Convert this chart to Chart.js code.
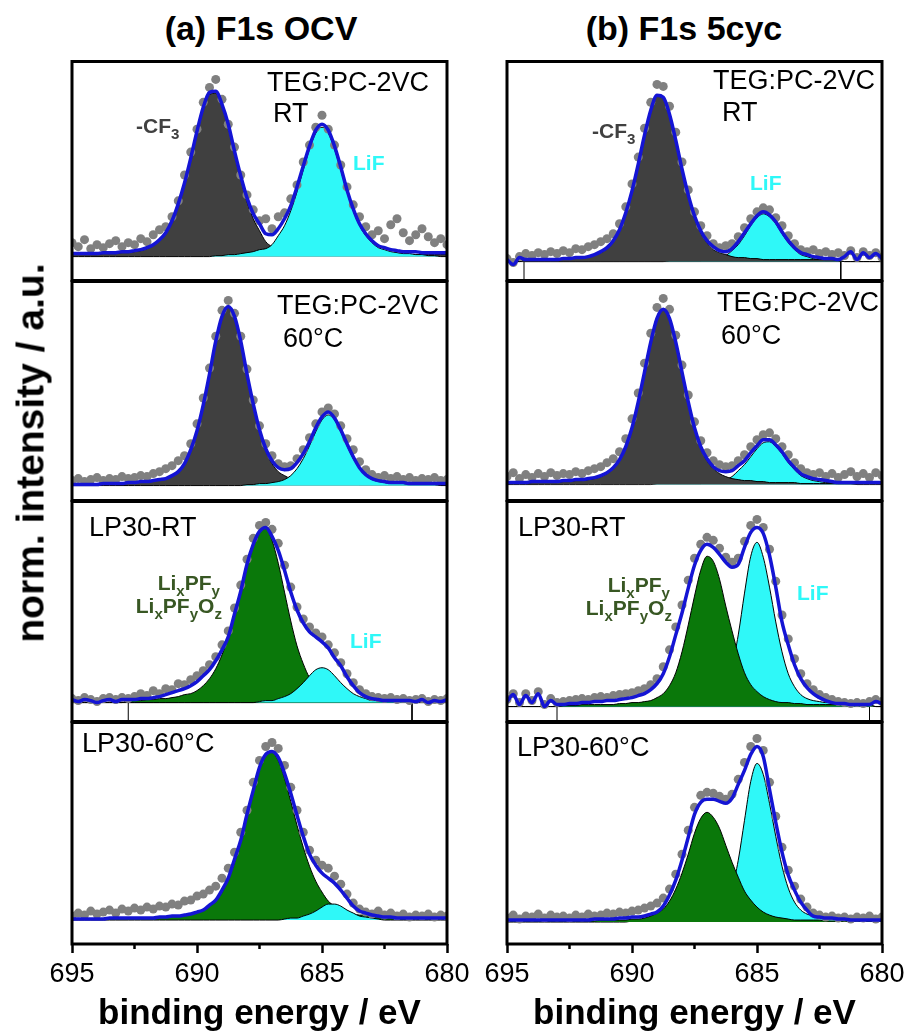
<!DOCTYPE html>
<html>
<head>
<meta charset="utf-8">
<script src="https://cdn.jsdelivr.net/npm/chart.js@4.4.1/dist/chart.umd.min.js"></script>
<style>
  body { margin: 0; width: 907px; height: 1032px; position: relative; overflow: hidden; background: #fff; font-family: "Liberation Sans", Arial, sans-serif; }
  canvas { position: absolute; }
  .lbl { position: absolute; white-space: nowrap; line-height: 1; }
  .s { font-size: 72%; position: relative; top: 0.35em; }
</style>
</head>
<body>
<script>
// binding energy grid (eV), shared by every panel
const energy = [695, 694.75, 694.5, 694.25, 694, 693.75, 693.5, 693.25, 693, 692.75,
  692.5, 692.25, 692, 691.75, 691.5, 691.25, 691, 690.75, 690.5, 690.25,
  690, 689.75, 689.5, 689.25, 689, 688.75, 688.5, 688.25, 688, 687.75,
  687.5, 687.25, 687, 686.75, 686.5, 686.25, 686, 685.75, 685.5, 685.25,
  685, 684.75, 684.5, 684.25, 684, 683.75, 683.5, 683.25, 683, 682.75,
  682.5, 682.25, 682, 681.75, 681.5, 681.25, 681, 680.75, 680.5, 680.25,
  680];

// (a) OCV, TEG:PC-2VC RT
const a1Dots = [14,10,17,8,12,9,13,16,10,14, 12,18,15,22,27,30,40,56,82,105, 128,155,170,178,158,133,110,82,62,47, 36,38,28,40,44,58,72,95,112,130, 142,128,112,92,70,52,40,30,22,26, 18,32,38,24,16,22,28,20,14,18, 12];
const a1Fit = [3,3,3,3,3,4,4,4,5,5, 6,7,9,12,17,24,36,53,74,99, 126,150,165,166,153,133,106,81,59,43, 33,23,22,28,38,51,70,91,111,127, 133,127,111,90,67,48,33,23,16,11, 9,7,6,5,5,5,4,4,4,4, 4];
const a1Cf3 = [2,2,2,2,2,3,3,3,4,4, 5,6,8,11,16,23,35,52,73,98, 124,148,163,164,151,130,103,78,55,38, 26,15,10,7,7,5,5,4,3,3, 3,3,3,3,2,2,2,2,2,2, 2,2,2,2,2,2,2,2,2,2, 2];
const a1Lif = [0,0,0,0,0,0,0,0,0,0, 0,0,0,0,0,0,0,0,0,0, 0,0,0,1,1,2,2,3,4,5, 7,8,12,21,31,46,65,87,108,124, 130,124,108,87,65,46,31,21,14,9, 7,5,4,3,3,2,2,1,1,0, 0];

// (a) OCV, TEG:PC-2VC 60°C
const a2Dots = [5,7,4,6,8,5,7,6,9,7, 8,10,9,12,14,17,20,25,30,42, 62,88,118,150,176,186,173,150,117,86, 60,42,30,22,19,20,27,36,48,62, 74,78,72,60,47,36,24,16,11,8, 10,7,9,6,8,5,7,6,8,5, 6];
const a2Fit = [1,1,1,1,1,2,2,2,2,3, 3,4,4,5,6,7,10,14,22,36, 55,81,112,145,170,180,170,145,112,82, 56,37,25,18,16,17,23,32,44,58, 69,74,68,56,42,29,18,11,7,5, 4,3,3,3,2,2,2,2,2,2, 2];
const a2Cf3 = [1,1,1,1,1,2,2,2,2,3, 3,4,4,5,6,7,10,14,22,35, 54,80,111,144,169,179,169,144,111,80, 54,35,22,14,10,7,6,5,4,4, 3,3,2,2,2,2,1,1,1,1, 1,1,1,1,1,1,1,1,1,1, 1];
const a2Lif = [0,0,0,0,0,0,0,0,0,0, 0,0,0,0,0,0,0,0,0,0, 0,0,0,0,0,0,0,0,1,1, 2,2,3,4,6,10,17,27,40,54, 66,71,66,54,40,27,17,10,6,4, 3,2,2,2,1,1,1,1,1,0, 0];

// (a) OCV, LP30-RT
const a3Dots = [4,2,5,3,1,4,5,3,5,4, 6,9,7,12,9,14,13,19,18,23, 27,32,38,46,58,72,95,118,144,165, 178,181,174,160,138,116,96,84,76,70, 66,58,50,40,29,20,13,9,6,5, 4,5,3,4,2,3,4,1,3,2, 4];
const a3Fit = [3,1,3,2,0,2,3,1,3,3, 3,4,4,5,6,8,10,12,14,17, 21,27,33,42,53,66,89,112,139,159, 172,176,167,153,133,111,93,80,71,66, 61,55,45,37,26,17,10,6,4,3, 2,2,2,2,2,1,3,0,2,1, 3];
const a3Pf = [0,0,0,0,0,0,0,0,0,2, 2,2,3,3,4,4,5,6,8,9, 12,17,24,34,48,66,88,112,136,157, 171,175,163,140,111,82,57,39,25,17, 12,8,6,5,5,4,4,3,3,2, 2,2,2,2,2,0,0,0,0,0, 0];
const a3Lif = [0,0,0,0,0,0,0,0,0,0, 0,0,0,0,0,0,0,0,0,0, 0,0,0,0,0,0,0,0,0,0, 1,2,2,4,6,9,14,20,27,33, 35,33,27,20,14,9,6,4,2,2, 1,1,1,1,1,0,0,0,0,0, 0];
const a3Bg = [692.75, 681.4];

// (a) OCV, LP30-60°C
const a4Dots = [4,7,5,9,6,8,10,7,11,9, 12,10,13,11,14,13,16,15,19,20, 24,26,30,34,42,52,68,88,110,138, 160,174,178,172,155,133,110,88,70,60, 55,52,44,36,26,17,11,8,6,9, 5,7,4,6,3,5,4,6,3,5, 4];
const a4Fit = [1,1,1,1,1,1,2,2,2,2, 2,2,2,2,3,3,4,4,5,6, 8,10,15,20,30,42,61,80,106,130, 153,166,169,163,147,127,105,84,66,55, 47,42,37,30,22,14,9,7,5,4, 3,3,2,2,2,2,2,2,2,2, 2];
const a4Pf = [1,1,1,1,1,1,2,2,2,2, 2,2,2,2,3,3,4,4,5,6, 8,10,14,19,28,41,58,79,104,130, 152,166,168,160,142,119,95,73,54,39, 28,19,14,10,8,6,5,5,4,4, 3,3,2,2,2,2,2,2,2,2, 2];
const a4Lif = [0,0,0,0,0,0,0,0,0,0, 0,0,0,0,0,0,0,0,0,0, 0,0,0,0,0,0,0,0,0,0, 0,0,0,0,1,2,2,4,6,9, 13,16,16,14,10,7,4,3,2,1, 0,0,0,0,0,0,0,0,0,0, 0];

// (b) 5cyc, TEG:PC-2VC RT
const b1Dots = [3,-1,5,8,6,9,7,10,8,11, 9,13,12,15,17,20,23,28,38,55, 78,105,134,160,178,176,156,130,100,72, 50,36,26,18,14,16,18,25,34,43, 50,54,52,44,36,26,18,12,10,12, 8,10,7,9,6,11,4,10,6,9, 4];
const b1Fit = [2,-3,4,2,2,2,2,2,2,3, 3,4,4,5,7,10,14,21,32,49, 71,98,127,152,167,165,148,122,93,67, 46,31,21,15,11,10,13,20,29,38, 46,50,47,40,30,21,14,9,7,5, 4,3,3,2,5,10,2,9,4,8, 3];
const b1Cf3 = [0,0,0,2,2,2,2,2,2,3, 3,4,4,5,7,9,13,20,31,48, 70,97,126,151,166,164,147,120,91,65, 44,29,19,12,9,7,5,4,4,3, 3,2,2,2,2,2,2,2,2,2, 2,2,2,1,0,0,0,0,0,0, 0];
const b1Lif = [0,0,0,0,0,0,0,0,0,0, 0,0,0,0,0,0,0,0,0,0, 0,0,0,0,0,0,1,1,1,1, 1,1,2,3,4,6,11,17,26,36, 44,48,45,38,28,19,12,7,5,3, 2,1,1,1,0,0,0,0,0,0, 0];
const b1Bg = [694.32, 681.65];

// (b) 5cyc, TEG:PC-2VC 60°C
const b2Dots = [8,12,6,10,7,11,8,12,9,11, 10,13,11,14,16,18,22,26,33,46, 66,92,122,152,178,187,176,150,120,90, 63,44,32,24,20,18,19,24,30,38, 45,50,52,46,38,30,22,16,12,10, 12,8,11,7,10,13,8,11,7,12, 9];
const b2Fit = [2,2,2,2,3,3,3,3,3,4, 4,5,5,6,7,9,12,17,25,38, 57,83,113,143,167,176,167,143,113,83, 57,38,26,18,14,13,14,19,24,32, 39,45,45,40,33,24,17,11,8,6, 5,4,3,2,2,2,2,2,2,2, 2];
const b2Cf3 = [1,1,1,1,2,2,2,2,2,3, 3,4,4,5,6,8,11,16,24,37, 56,82,112,142,166,175,166,142,112,82, 56,37,24,16,11,8,6,5,4,4, 3,3,2,2,2,2,2,1,1,1, 1,1,1,1,1,1,1,1,1,1, 1];
const b2Lif = [0,0,0,0,0,0,0,0,0,0, 0,0,0,0,0,0,0,0,0,0, 0,0,0,0,1,1,1,1,1,1, 1,1,2,2,3,5,8,14,20,28, 36,42,43,38,31,22,15,9,6,4, 3,2,2,1,1,1,0,0,0,0, 0];

// (b) 5cyc, LP30-RT
const b3Dots = [7,13,4,13,6,15,2,8,4,5, 6,7,8,7,9,10,9,11,12,13, 14,16,18,22,28,40,57,80,102,127, 149,163,170,167,159,150,145,149,166,182, 188,180,158,126,92,68,48,33,23,17, 12,9,7,5,4,3,4,3,5,7, 5];
const b3Fit = [5,12,2,11,4,13,0,6,2,2, 3,3,4,4,5,5,6,6,7,8, 9,11,13,17,23,33,50,72,94,119, 142,157,163,160,153,145,140,143,160,175, 180,174,152,120,85,62,42,28,19,13, 9,6,4,3,3,2,2,2,2,5, 3];
const b3Pf = [0,0,0,0,0,0,0,0,0,1, 1,1,2,2,2,2,2,2,3,3, 4,4,5,6,9,13,21,34,55,82, 111,137,151,146,128,101,76,53,34,22, 15,10,7,5,4,4,3,3,2,2, 2,2,2,2,2,2,1,1,1,0, 0];
const b3Lif = [0,0,0,0,0,0,0,0,0,1, 1,1,1,1,1,1,1,1,1,1, 2,2,2,2,2,2,2,2,2,3, 3,4,5,7,12,21,40,72,114,151, 165,150,120,85,55,33,20,12,8,6, 5,4,4,3,3,2,2,2,2,0, 0];
const b3Bg = [693.0, 680.5];

// (b) 5cyc, LP30-60°C
const b4Dots = [4,7,3,6,5,8,4,7,5,6, 4,7,5,8,6,7,9,8,10,9, 11,12,14,16,19,24,33,48,68,92, 115,127,130,129,126,123,128,143,160,176, 184,172,140,106,75,52,36,23,15,9, 7,5,6,4,5,3,5,4,6,3, 5];
const b4Fit = [2,2,2,2,2,2,2,2,2,2, 2,2,2,2,3,3,3,3,4,4, 5,5,6,8,10,16,27,42,62,85, 108,120,123,123,121,119,124,138,152,168, 176,166,133,100,70,47,32,20,12,6, 5,4,4,3,3,2,2,2,2,2, 2];
const b4Pf = [1,1,1,1,1,1,1,1,1,1, 1,1,1,1,1,2,2,2,2,2, 3,3,4,6,9,13,21,33,49,68, 89,104,110,105,94,77,60,45,31,22, 15,10,7,5,4,3,2,2,2,2, 2,1,1,1,1,1,1,1,1,1, 1];
const b4Lif = [0,0,0,0,0,0,0,0,0,0, 0,0,0,0,0,0,0,0,0,0, 1,1,2,2,2,2,2,2,2,3, 3,4,5,6,9,17,33,62,102,141, 159,148,119,86,56,34,20,12,8,6, 5,4,4,3,3,2,2,2,2,2, 2];

const FONT = '"Liberation Sans", Arial, sans-serif';
const GRAY = '#404040', CYAN = '#2ff8f8', GREEN = '#0a780a', FIT = '#1414d4', DOT = '#808080';
const colLeft = [72, 507], plotW = 375;
const rowTop = [61, 281, 501, 722], plotBottom = 944;
const SIDE = 30, EDGE = 4, AXIS_H = 91;

Chart.defaults.color = '#000';

const panels = [
  { col: 0, row: 0, dots: a1Dots, fit: a1Fit, peaks: [[a1Cf3, GRAY], [a1Lif, CYAN]], base: 24 },
  { col: 0, row: 1, dots: a2Dots, fit: a2Fit, peaks: [[a2Cf3, GRAY], [a2Lif, CYAN]], base: 15 },
  { col: 0, row: 2, dots: a3Dots, fit: a3Fit, peaks: [[a3Pf, GREEN], [a3Lif, CYAN]], base: 19, bg: a3Bg },
  { col: 0, row: 3, dots: a4Dots, fit: a4Fit, peaks: [[a4Pf, GREEN], [a4Lif, CYAN]], base: 24 },
  { col: 1, row: 0, dots: b1Dots, fit: b1Fit, peaks: [[b1Cf3, GRAY], [b1Lif, CYAN]], base: 19, bg: b1Bg },
  { col: 1, row: 1, dots: b2Dots, fit: b2Fit, peaks: [[b2Cf3, GRAY], [b2Lif, CYAN]], base: 16 },
  { col: 1, row: 2, dots: b3Dots, fit: b3Fit, peaks: [[b3Pf, GREEN], [b3Lif, CYAN]], base: 15, bg: b3Bg },
  { col: 1, row: 3, dots: b4Dots, fit: b4Fit, peaks: [[b4Pf, GREEN], [b4Lif, CYAN]], base: 22 }
];

const frame = {
  id: 'frame',
  afterDatasetsDraw(chart) {
    const a = chart.chartArea, c = chart.ctx;
    c.save();
    c.lineWidth = 3;
    c.strokeStyle = '#000';
    c.strokeRect(a.left, a.top, a.right - a.left, a.bottom - a.top);
    c.restore();
  }
};

function pts(vals) {
  return energy.map((e, i) => ({ x: e, y: vals[i] }));
}

function drawPanel(p) {
  const top = rowTop[p.row];
  const h = (p.row < 3 ? rowTop[p.row + 1] : plotBottom) - top;
  const last = p.row === 3;
  const cv = document.createElement('canvas');
  cv.width = plotW + 2 * SIDE;
  cv.height = EDGE + h + (last ? AXIS_H : EDGE);
  cv.style.left = (colLeft[p.col] - SIDE) + 'px';
  cv.style.top = (top - EDGE) + 'px';
  document.body.appendChild(cv);

  const lo = -p.base, hi = h - p.base;
  const datasets = [
    { data: pts(p.fit), borderColor: FIT, borderWidth: 3.5, pointRadius: 0, cubicInterpolationMode: 'monotone', fill: false, order: 0 },
    { data: pts(p.dots), showLine: false, pointRadius: 4.5, pointBackgroundColor: DOT, pointBorderColor: DOT, pointBorderWidth: 0, order: 1 }
  ];
  p.peaks.forEach(([vals, color], k) => {
    datasets.push({
      data: pts(vals), borderColor: '#000', borderWidth: 1, backgroundColor: color,
      fill: 'origin', pointRadius: 0, cubicInterpolationMode: 'monotone',
      order: p.col === 0 ? 3 - k : 2 + k
    });
  });
  if (p.bg) {
    datasets.push({
      data: [{ x: p.bg[0], y: lo }, { x: p.bg[0], y: 0 }, { x: p.bg[1], y: 0 }, { x: p.bg[1], y: lo }],
      borderColor: '#000', borderWidth: 1, pointRadius: 0, fill: false, order: 5
    });
  }

  const xAxis = {
    type: 'linear', min: 680, max: 695, reverse: true,
    display: last,
    border: { display: false },
    grid: {
      drawOnChartArea: false, drawTicks: true, tickLength: 9, tickColor: '#000', tickWidth: 2.5,
      tickBorderDash: ctx => (ctx.tick && ctx.tick.value % 5) ? [5, 50] : []
    },
    ticks: {
      stepSize: 2.5, autoSkip: false, maxRotation: 0, padding: 5,
      font: { family: FONT, size: 27 },
      callback: v => v % 5 === 0 ? String(v) : ''
    },
    title: { display: true, text: 'binding energy / eV', font: { family: FONT, size: 35, weight: 'bold' }, padding: 0 }
  };
  if (last) xAxis.afterFit = s => { s.height = AXIS_H; };

  new Chart(cv, {
    type: 'line',
    data: { datasets },
    options: {
      responsive: false,
      animation: false,
      events: [],
      layout: { padding: { left: SIDE, right: SIDE, top: EDGE, bottom: last ? 0 : EDGE } },
      plugins: { legend: { display: false }, tooltip: { enabled: false } },
      scales: {
        x: xAxis,
        y: { display: false, min: lo, max: hi }
      }
    },
    plugins: [frame]
  });
}

panels.forEach(drawPanel);

function label(html, x, baseline, size, weight, color, align) {
  const d = document.createElement('div');
  d.className = 'lbl';
  d.innerHTML = html;
  d.style.fontSize = size + 'px';
  d.style.fontWeight = weight;
  d.style.color = color;
  d.style.left = x + 'px';
  d.style.top = (baseline - 0.8465 * size) + 'px';
  if (align === 'center') d.style.transform = 'translateX(-50%)';
  if (align === 'right') d.style.transform = 'translateX(-100%)';
  document.body.appendChild(d);
}

const PFCOL = '#385723';
label('(a) F1s OCV', 261, 40, 34, 'bold', '#000', 'center');
label('(b) F1s 5cyc', 684, 40, 34, 'bold', '#000', 'center');

label('TEG:PC-2VC', 267, 92, 27, 'normal', '#000');
label('RT', 273, 123, 27, 'normal', '#000');
label('-CF<span class="s">3</span>', 136, 133, 21, 'bold', GRAY);
label('LiF', 353, 170, 21, 'bold', CYAN);
label('TEG:PC-2VC', 277, 315, 27, 'normal', '#000');
label('60°C', 283, 348, 27, 'normal', '#000');
label('LP30-RT', 89, 537, 27, 'normal', '#000');
label('Li<span class="s">x</span>PF<span class="s">y</span>', 220, 590, 21, 'bold', PFCOL, 'right');
label('Li<span class="s">x</span>PF<span class="s">y</span>O<span class="s">z</span>', 222, 613, 21, 'bold', PFCOL, 'right');
label('LiF', 350, 648, 21, 'bold', CYAN);
label('LP30-60°C', 82, 753, 27, 'normal', '#000');

label('TEG:PC-2VC', 713, 90, 27, 'normal', '#000');
label('RT', 722, 122, 27, 'normal', '#000');
label('-CF<span class="s">3</span>', 592, 138, 21, 'bold', GRAY);
label('LiF', 750, 190, 21, 'bold', CYAN);
label('TEG:PC-2VC', 717, 312, 27, 'normal', '#000');
label('60°C', 721, 345, 27, 'normal', '#000');
label('LP30-RT', 518, 537, 27, 'normal', '#000');
label('Li<span class="s">x</span>PF<span class="s">y</span>', 670, 592, 21, 'bold', PFCOL, 'right');
label('Li<span class="s">x</span>PF<span class="s">y</span>O<span class="s">z</span>', 672, 615, 21, 'bold', PFCOL, 'right');
label('LiF', 797, 600, 21, 'bold', CYAN);
label('LP30-60°C', 517, 757, 27, 'normal', '#000');

const yTitle = document.createElement('div');
yTitle.className = 'lbl';
yTitle.textContent = 'norm. intensity / a.u.';
yTitle.style.cssText += 'font-size:39px;font-weight:bold;left:30px;top:453px;transform:translate(-50%,-50%) rotate(-90deg);';
document.body.appendChild(yTitle);
</script>
</body>
</html>
